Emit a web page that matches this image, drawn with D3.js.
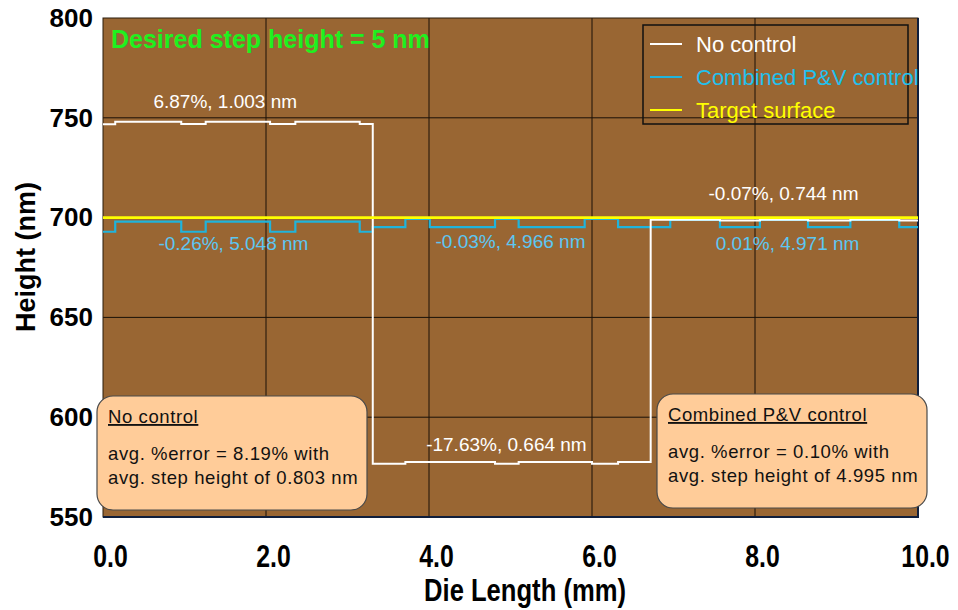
<!DOCTYPE html>
<html>
<head>
<meta charset="utf-8">
<script src="https://cdn.jsdelivr.net/npm/d3@7"></script>
<style>
  body { margin: 0; background: #fff; }
  text { font-family: "Liberation Sans", Arial, sans-serif; }
</style>
</head>
<body>
<svg id="chart" width="958" height="610"></svg>
<script>
// die position (mm) where each step starts, and the height (nm) from there on
const noControl = [
  [0, 746.8], [0.15, 748.0], [0.96, 746.9], [1.26, 748.0], [2.05, 746.9], [2.36, 748.0],
  [3.15, 746.9], [3.31, 576.7], [3.71, 577.5], [4.81, 576.7], [5.10, 577.5], [6.0, 576.7],
  [6.32, 577.5], [6.72, 698.9], [7.57, 698.6], [8.06, 698.9], [8.65, 698.6], [9.17, 698.9],
  [9.77, 698.6], [10, 698.6]
];
const combinedPV = [
  [0, 692.9], [0.15, 698.0], [0.96, 692.9], [1.26, 698.0], [2.05, 692.9], [2.36, 698.0],
  [3.15, 692.9], [3.31, 695.2], [3.71, 699.3], [4.01, 695.2], [4.81, 699.3], [5.10, 695.2],
  [5.91, 699.3], [6.32, 695.2], [6.96, 698.8], [7.57, 695.2], [8.06, 698.8], [8.65, 695.2],
  [9.17, 698.8], [9.77, 695.2], [10, 695.2]
];
const target = [[0, 700], [10, 700]];

const xTicks = [0, 2, 4, 6, 8, 10];
const yTicks = [550, 600, 650, 700, 750, 800];

// per-region labels: [x mm, height nm, text]
const whiteLabels = [
  [1.5, 755, "6.87%, 1.003 nm"],
  [4.95, 583, "-17.63%, 0.664 nm"],
  [8.35, 709, "-0.07%, 0.744 nm"]
];
const cyanLabels = [
  [1.6, 684, "-0.26%, 5.048 nm"],
  [5.0, 685, "-0.03%, 4.966 nm"],
  [8.4, 684, "0.01%, 4.971 nm"]
];

const legendItems = [
  { name: "No control", color: "#ffffff", text: "#ffffff" },
  { name: "Combined P&V control", color: "#1fb4dc", text: "#1fc0ee" },
  { name: "Target surface", color: "#ffff00", text: "#ffff00" }
];

const noteBoxes = [
  { x0: 97, y0: 396, x1: 367, y1: 510, title: "No control",
    lines: ["avg. %error = 8.19% with", "avg. step height of 0.803 nm"] },
  { x0: 657, y0: 394, x1: 927, y1: 508, title: "Combined P&V control",
    lines: ["avg. %error = 0.10% with", "avg. step height of 4.995 nm"] }
];

const svg = d3.select("#chart");
const plotL = 103, plotR = 918, plotT = 18, plotB = 517;

const x = d3.scaleLinear().domain([0, 10]).range([plotL, plotR]);
const y = d3.scaleLinear().domain([550, 800]).range([plotB, plotT]);

// plot background
svg.append("rect")
  .attr("x", plotL).attr("y", plotT)
  .attr("width", plotR - plotL).attr("height", plotB - plotT)
  .attr("fill", "#996633");

// grid
svg.append("g").selectAll("line")
  .data(xTicks.slice(1, -1))
  .join("line")
  .attr("x1", d => x(d)).attr("x2", d => x(d))
  .attr("y1", plotT).attr("y2", plotB)
  .attr("stroke", "#1a1108").attr("stroke-width", 1);

svg.append("g").selectAll("line")
  .data(yTicks.slice(1, -1))
  .join("line")
  .attr("x1", plotL).attr("x2", plotR)
  .attr("y1", d => y(d)).attr("y2", d => y(d))
  .attr("stroke", "#1a1108").attr("stroke-width", 1);

// frame
svg.append("rect")
  .attr("x", plotL).attr("y", plotT)
  .attr("width", plotR - plotL).attr("height", plotB - plotT)
  .attr("fill", "none").attr("stroke", "#2a1c0c").attr("stroke-width", 1);
svg.append("path")
  .attr("d", `M${plotL},${plotB}H${plotR}V${plotT}`)
  .attr("fill", "none").attr("stroke", "#0f1e3c").attr("stroke-width", 2);

// series
const step = d3.line()
  .x(d => x(d[0]))
  .y(d => y(d[1]))
  .curve(d3.curveStepAfter);

svg.append("path").datum(combinedPV)
  .attr("d", step).attr("fill", "none")
  .attr("stroke", "#1fb4dc").attr("stroke-width", 2.2);

svg.append("path").datum(noControl)
  .attr("d", step).attr("fill", "none")
  .attr("stroke", "#ffffff").attr("stroke-width", 2);

svg.append("path").datum(target)
  .attr("d", step).attr("fill", "none")
  .attr("stroke", "#ffff00").attr("stroke-width", 2.6);

// series labels
svg.append("g").selectAll("text")
  .data(whiteLabels)
  .join("text")
  .attr("x", d => x(d[0])).attr("y", d => y(d[1]))
  .attr("text-anchor", "middle")
  .attr("fill", "#ffffff")
  .style("font-size", "19px")
  .text(d => d[2]);

svg.append("g").selectAll("text")
  .data(cyanLabels)
  .join("text")
  .attr("x", d => x(d[0])).attr("y", d => y(d[1]))
  .attr("text-anchor", "middle")
  .attr("fill", "#5cc6f2")
  .style("font-size", "19px")
  .text(d => d[2]);

// title inside plot
svg.append("text")
  .attr("x", 111).attr("y", 48)
  .attr("fill", "#1ff01f")
  .style("font-size", "25px").style("font-weight", "bold")
  .text("Desired step height = 5 nm");

// legend
const legend = svg.append("g");
legend.append("rect")
  .attr("x", 643).attr("y", 25).attr("width", 265).attr("height", 99)
  .attr("fill", "none").attr("stroke", "#111").attr("stroke-width", 1.5);

const li = legend.selectAll("g.item")
  .data(legendItems)
  .join("g")
  .attr("class", "item")
  .attr("transform", (d, i) => `translate(650,${44 + i * 33})`);
li.append("line")
  .attr("x1", 0).attr("x2", 32)
  .attr("stroke", d => d.color).attr("stroke-width", 2);
li.append("text")
  .attr("x", 46).attr("y", 8)
  .attr("fill", d => d.text)
  .style("font-size", "22px")
  .text(d => d.name);

// note boxes
const nb = svg.append("g").selectAll("g")
  .data(noteBoxes)
  .join("g");
nb.append("rect")
  .attr("x", d => d.x0).attr("y", d => d.y0)
  .attr("width", d => d.x1 - d.x0).attr("height", d => d.y1 - d.y0)
  .attr("rx", 16).attr("ry", 16)
  .attr("fill", "#ffcc99").attr("stroke", "#4a4a4a").attr("stroke-width", 1.2);
nb.append("text")
  .attr("x", d => d.x0 + 11).attr("y", d => d.y0 + 27)
  .attr("fill", "#111")
  .style("font-size", "18.5px")
  .style("text-decoration", "underline")
  .style("letter-spacing", "0.6px")
  .text(d => d.title);
nb.each(function (d) {
  d3.select(this).selectAll("text.line")
    .data(d.lines)
    .join("text")
    .attr("class", "line")
    .attr("x", d.x0 + 11)
    .attr("y", (t, i) => d.y0 + 64 + i * 23.5)
    .attr("fill", "#111")
    .style("font-size", "18.5px")
    .style("letter-spacing", "0.6px")
    .text(t => t);
});

// y axis
const yAxis = svg.append("g")
  .attr("transform", `translate(${plotL},0)`)
  .call(d3.axisLeft(y).tickValues(yTicks).tickFormat(d3.format("d")).tickSize(0).tickPadding(10));
yAxis.select(".domain").remove();
yAxis.selectAll("text")
  .attr("fill", "#000")
  .style("font-size", "26px").style("font-weight", "bold")
  .style("font-family", "'Liberation Sans', Arial, sans-serif");

// x axis
const xAxis = svg.append("g")
  .attr("transform", `translate(0,${plotB})`)
  .call(d3.axisBottom(x).tickValues(xTicks).tickFormat(d3.format(".1f")).tickSize(0));
xAxis.select(".domain").remove();
xAxis.selectAll("text")
  .attr("fill", "#000")
  .attr("y", 0).attr("dy", 0)
  .attr("transform", "translate(7,50) scale(0.8,1)")
  .style("font-size", "31px").style("font-weight", "bold")
  .style("font-family", "'Liberation Sans', Arial, sans-serif");

// axis titles
svg.append("text")
  .attr("transform", "translate(525,601) scale(0.8,1)")
  .attr("text-anchor", "middle")
  .attr("fill", "#000")
  .style("font-size", "32px").style("font-weight", "bold")
  .text("Die Length (mm)");

svg.append("text")
  .attr("transform", "translate(35,257) rotate(-90)")
  .attr("text-anchor", "middle")
  .attr("fill", "#000")
  .style("font-size", "27px").style("font-weight", "bold")
  .text("Height (nm)");
</script>
</body>
</html>
